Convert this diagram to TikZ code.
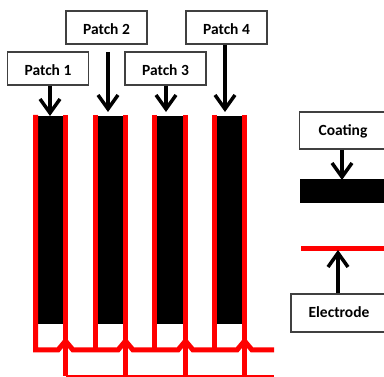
\documentclass[tikz,border=0pt]{standalone}
\usepackage{fontspec}
\setmainfont{Carlito}
\usetikzlibrary{positioning,calc,arrows.meta}

\tikzset{
  label box/.style={draw=black!75,line width=1.3pt,fill=white,minimum width=81pt,minimum height=33pt,inner sep=0pt,text height=14pt,text depth=0pt,font=\fontsize{15.5}{17}\selectfont\bfseries},
  patch/.style={fill=black,inner sep=0pt,minimum width=26pt,minimum height=208pt},
  arrow line/.style={line width=3.5pt,->},
  red line/.style={red,line width=5pt,miter limit=10}
}

\begin{document}
\begin{tikzpicture}[x=1pt,y=-1pt,>={Straight Barb[length=14pt,width=20pt]}]

\useasboundingbox (0,0) rectangle (384,377);
\clip (0,0) rectangle (384,377);

% patches
\node [patch] at (50.5,220) (s1) {};
\node [patch] at (110.5,220) (s2) {};
\node [patch] at (170,220) (s3) {};
\node [patch] at (229.5,220) (s4) {};

% apex of each red arrow head
\coordinate (h1) at (65.5,341);
\coordinate (h2) at (125.5,341);
\coordinate (h3) at (185.5,341);
\coordinate (h4) at (244.5,341);

% first electrode
\coordinate (a0) at (35.5,350);
\coordinate (a1) at (95.5,350);
\coordinate (a2) at (154.5,350);
\coordinate (a3) at (214.5,350);
\coordinate (a4) at (274,350);

\draw [red line] (35.5,115) -- (a0)
  -- (58,350) -- (h1) -- (73,350)
  -- (118,350) -- (h2) -- (133,350)
  -- (178,350) -- (h3) -- (193,350)
  -- (237,350) -- (h4) -- (252,350) -- (a4);
\draw [red line] (95.5,115) -- (a1);
\draw [red line] (154.5,115) -- (a2);
\draw [red line] (214.5,115) -- (a3);

% second electrode
\coordinate (b0) at (65.5,376);
\coordinate (b1) at (125.5,376);
\coordinate (b2) at (185.5,376);
\coordinate (b3) at (244.5,376);
\coordinate (b4) at (274,376);

\draw [red,line width=2.5pt] (b0) -- (b4);

\draw [red line] (65.5,115) -- (h1);
\draw [red line] (125.5,115) -- (h2);
\draw [red line] (185.5,115) -- (h3);
\draw [red line] (244.5,115) -- (h4);

\draw [red,line width=4.5pt] (h1) -- (b0);
\draw [red,line width=4.5pt] (h2) -- (b1);
\draw [red,line width=4.5pt] (h3) -- (b2);
\draw [red,line width=4.5pt] (h4) -- (b3);

% labels
\node [label box] at (48,68.5) (p1) {Patch 1};
\node [label box] at (106.5,27.5) (p2) {Patch 2};
\node [label box] at (165.5,68.5) (p3) {Patch 3};
\node [label box] at (226.5,27.5) (p4) {Patch 4};

\coordinate (p2a) at (108,52);
\coordinate (t1) at (50,116);
\coordinate (t2) at (108,112);
\coordinate (t3) at (166,112);
\coordinate (t4) at (225,112);

\draw [arrow line] (p1.south -| t1) -- (t1);
\draw [arrow line] (p2a) -- (t2);
\draw [arrow line] (p3.south -| t3) -- (t3);
\draw [arrow line] (p4.south -| t4) -- (t4);

% legend
\node [label box,text height=10pt,minimum width=87pt,minimum height=37pt] at (343,130.5) (c) {Coating};
\node [fill=black,inner sep=0pt,minimum width=90pt,minimum height=24pt,anchor=west] at (300,191) (cb) {};
\coordinate (ct) at (342,180);
\draw [arrow line] (c.south -| ct) -- (ct);

\coordinate (r0) at (301,249);
\coordinate (r1) at (384,249);
\draw [red,line width=5pt] (r0) -- (r1);

\node [label box,text height=10pt,minimum width=96pt,minimum height=38pt] at (339,313) (e) {Electrode};
\coordinate (et) at (338,250);
\draw [arrow line] (e.north -| et) -- (et);

\end{tikzpicture}
\end{document}
